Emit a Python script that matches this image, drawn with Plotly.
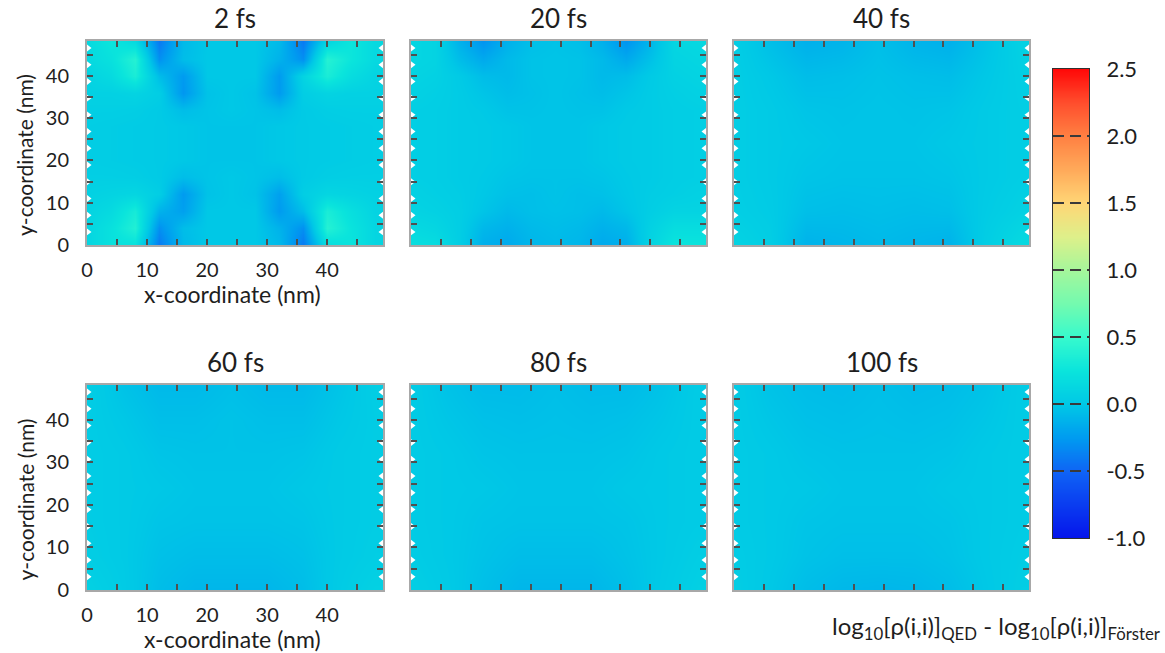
import numpy as np
import plotly.graph_objects as go

W, H = 1165, 653

# ---------------- data ----------------
PANEL_TITLES = ["2 fs", "20 fs", "40 fs", "60 fs", "80 fs", "100 fs"]

# fine grid (nm) for the 2 fs and 20 fs maps
X_FINE = [0, 4, 8, 12, 16, 20, 24, 28, 32, 36, 40, 44, 48]
Y_FINE = [0, 4, 8, 12, 16, 20, 24, 28, 32, 36, 40, 44, 48]
# coarse grid (nm) for the smoother later maps
X_COARSE = [0, 6, 12, 18, 24, 30, 36, 42, 48]
Y_COARSE = [0, 8, 16, 24, 32, 40, 48]

# rows listed from y = 0 (bottom) to y = 48 (top)
Z_2FS = [
    [0.12, 0.22, 0.22, -0.40, -0.08, 0.00, 0.00, 0.00, -0.08, -0.40, 0.18, 0.24, 0.12],
    [0.12, 0.22, 0.38, -0.30, -0.06, 0.00, 0.00, 0.00, -0.12, -0.30, 0.40, 0.24, 0.12],
    [0.10, 0.16, 0.32, -0.12, -0.22, 0.00, 0.00, 0.00, -0.25, -0.06, 0.34, 0.20, 0.10],
    [0.08, 0.10, 0.12, 0.05, -0.25, -0.03, 0.00, -0.03, -0.22, 0.05, 0.12, 0.10, 0.08],
    [0.06, 0.06, 0.05, 0.02, -0.06, -0.02, 0.00, -0.02, -0.06, 0.02, 0.05, 0.06, 0.06],
    [0.05, 0.04, 0.03, 0.02, 0.00, -0.02, -0.02, -0.02, 0.00, 0.02, 0.03, 0.04, 0.05],
    [0.05, 0.04, 0.03, 0.02, 0.00, -0.02, -0.02, -0.02, 0.00, 0.02, 0.03, 0.04, 0.05],
    [0.05, 0.04, 0.03, 0.02, 0.00, -0.02, -0.02, -0.02, 0.00, 0.02, 0.03, 0.04, 0.05],
    [0.06, 0.06, 0.05, 0.02, -0.06, -0.02, 0.00, -0.02, -0.06, 0.02, 0.05, 0.06, 0.06],
    [0.08, 0.08, 0.10, 0.05, -0.27, -0.03, 0.00, -0.03, -0.25, 0.05, 0.10, 0.08, 0.08],
    [0.10, 0.16, 0.34, -0.06, -0.25, 0.00, 0.00, 0.00, -0.25, 0.10, 0.34, 0.18, 0.10],
    [0.15, 0.22, 0.40, -0.30, -0.06, 0.00, 0.00, 0.00, -0.12, -0.30, 0.40, 0.26, 0.15],
    [0.15, 0.26, 0.16, -0.40, -0.08, 0.00, 0.00, 0.00, -0.08, -0.40, 0.12, 0.26, 0.15],
]

Z_20FS = [
    [0.20, 0.18, 0.05, -0.14, -0.17, -0.10, -0.08, -0.10, -0.17, -0.14, 0.10, 0.25, 0.25],
    [0.15, 0.12, 0.05, -0.09, -0.13, -0.08, -0.06, -0.08, -0.13, -0.09, 0.08, 0.18, 0.18],
    [0.10, 0.08, 0.05, -0.02, -0.08, -0.05, -0.04, -0.05, -0.08, -0.02, 0.05, 0.10, 0.10],
    [0.08, 0.06, 0.04, 0.00, -0.04, -0.05, -0.03, -0.05, -0.04, 0.00, 0.04, 0.06, 0.08],
    [0.06, 0.05, 0.03, 0.01, -0.02, -0.03, -0.03, -0.03, -0.02, 0.01, 0.03, 0.05, 0.06],
    [0.06, 0.05, 0.03, 0.02, 0.00, -0.02, -0.02, -0.02, 0.00, 0.02, 0.03, 0.05, 0.06],
    [0.06, 0.05, 0.03, 0.02, 0.00, -0.02, -0.02, -0.02, 0.00, 0.02, 0.03, 0.05, 0.06],
    [0.06, 0.05, 0.03, 0.02, 0.00, -0.02, -0.02, -0.02, 0.00, 0.02, 0.03, 0.05, 0.06],
    [0.06, 0.05, 0.03, 0.01, -0.03, -0.03, -0.02, -0.03, -0.03, 0.01, 0.03, 0.05, 0.06],
    [0.08, 0.06, 0.03, -0.02, -0.06, -0.04, -0.02, -0.04, -0.06, -0.02, 0.03, 0.06, 0.08],
    [0.10, 0.08, 0.02, -0.06, -0.08, -0.03, -0.02, -0.03, -0.08, -0.06, 0.02, 0.08, 0.10],
    [0.12, 0.10, -0.06, -0.17, -0.08, -0.03, -0.02, -0.03, -0.08, -0.17, -0.04, 0.10, 0.12],
    [0.12, 0.10, -0.12, -0.28, -0.13, -0.05, -0.03, -0.05, -0.13, -0.28, -0.10, 0.12, 0.14],
]

Z_40FS = [
    [0.10, 0.05, -0.12, -0.10, -0.08, -0.10, -0.12, 0.05, 0.15],
    [0.06, 0.03, -0.05, -0.06, -0.05, -0.06, -0.05, 0.03, 0.08],
    [0.05, 0.02, -0.02, -0.03, -0.03, -0.03, -0.02, 0.02, 0.05],
    [0.05, 0.02, 0.00, -0.02, -0.02, -0.02, 0.00, 0.02, 0.05],
    [0.05, 0.02, -0.02, -0.03, -0.02, -0.03, -0.02, 0.02, 0.05],
    [0.05, 0.00, -0.06, -0.05, -0.03, -0.05, -0.06, 0.00, 0.06],
    [0.05, -0.05, -0.13, -0.11, -0.05, -0.11, -0.13, -0.03, 0.08],
]

Z_60FS = [
    [0.08, 0.03, -0.06, -0.10, -0.10, -0.10, -0.06, 0.03, 0.08],
    [0.05, 0.02, -0.04, -0.06, -0.06, -0.06, -0.04, 0.02, 0.05],
    [0.04, 0.02, -0.02, -0.03, -0.03, -0.03, -0.02, 0.02, 0.04],
    [0.04, 0.02, 0.00, -0.02, -0.02, -0.02, 0.00, 0.02, 0.04],
    [0.04, 0.02, -0.02, -0.03, -0.03, -0.03, -0.02, 0.02, 0.04],
    [0.04, 0.00, -0.05, -0.05, -0.03, -0.05, -0.05, 0.00, 0.04],
    [0.05, -0.03, -0.08, -0.08, -0.05, -0.08, -0.08, -0.02, 0.05],
]

Z_80FS = [
    [0.06, 0.02, -0.05, -0.10, -0.10, -0.10, -0.05, 0.02, 0.07],
    [0.04, 0.01, -0.03, -0.06, -0.06, -0.06, -0.03, 0.01, 0.05],
    [0.03, 0.01, -0.02, -0.03, -0.03, -0.03, -0.02, 0.01, 0.03],
    [0.03, 0.01, 0.00, -0.02, -0.02, -0.02, 0.00, 0.01, 0.03],
    [0.03, 0.01, -0.02, -0.03, -0.03, -0.03, -0.02, 0.01, 0.03],
    [0.03, -0.01, -0.04, -0.05, -0.04, -0.05, -0.04, -0.01, 0.03],
    [0.03, -0.03, -0.07, -0.07, -0.05, -0.07, -0.07, -0.03, 0.03],
]

Z_100FS = [
    [0.05, 0.00, -0.06, -0.09, -0.10, -0.09, -0.06, 0.00, 0.05],
    [0.04, 0.01, -0.03, -0.05, -0.05, -0.05, -0.03, 0.01, 0.04],
    [0.03, 0.01, -0.02, -0.03, -0.03, -0.03, -0.02, 0.01, 0.03],
    [0.03, 0.01, 0.00, -0.02, -0.02, -0.02, 0.00, 0.01, 0.03],
    [0.03, 0.01, -0.02, -0.03, -0.03, -0.03, -0.02, 0.01, 0.03],
    [0.03, -0.01, -0.04, -0.05, -0.04, -0.05, -0.04, -0.01, 0.03],
    [0.03, -0.03, -0.06, -0.07, -0.05, -0.07, -0.06, -0.03, 0.03],
]

# lattice edge: rows of the hexagonal lattice where the edge notches sit (nm)
EDGE_NOTCH_Y = [3.1, 7.05, 11.0, 14.95, 18.9, 22.85, 26.8, 30.75, 34.7, 38.65, 42.6, 46.55]

# colour bar
CB_MIN, CB_MAX = -1.0, 2.5
CB_TICKS = [-1.0, -0.5, 0.0, 0.5, 1.0, 1.5, 2.0, 2.5]
CB_TICKTEXT = ["-1.0", "-0.5", "0.0", "0.5", "1.0", "1.5", "2.0", "2.5"]
SCALE_VALUES = [-1.0, -0.5, -0.25, 0.0, 0.25, 0.5, 0.75, 1.0, 1.25, 1.5, 1.75, 2.0, 2.25, 2.5]
SCALE_COLORS = ["rgb(5,20,235)", "rgb(15,100,245)", "rgb(0,155,240)", "rgb(0,200,230)",
                "rgb(10,228,220)", "rgb(55,250,205)", "rgb(115,250,175)", "rgb(165,246,155)",
                "rgb(222,240,138)", "rgb(255,214,118)", "rgb(255,170,90)", "rgb(255,128,66)",
                "rgb(255,78,45)", "rgb(255,8,8)"]

X_TICK_LABELS = [0, 10, 20, 30, 40]
Y_TICK_LABELS = [0, 10, 20, 30, 40]

# ---------------- layout geometry (pixels) ----------------
FONT = "Lato, 'Open Sans', sans-serif"
TXT = "#1e1e1e"
COLS_PX = [(87, 383), (411, 706), (734, 1029)]
ROWS_PX = [(41, 245), (385, 590)]
X_RANGE = [0, 49.3]
Y_RANGE = [0, 48.2]


def px_x(p):
    return p / W


def px_y(p):
    return 1 - p / H


panels = [
    (Z_2FS, X_FINE, Y_FINE),
    (Z_20FS, X_FINE, Y_FINE),
    (Z_40FS, X_COARSE, Y_COARSE),
    (Z_60FS, X_COARSE, Y_COARSE),
    (Z_80FS, X_COARSE, Y_COARSE),
    (Z_100FS, X_COARSE, Y_COARSE),
]

colorscale = [[(v - CB_MIN) / (CB_MAX - CB_MIN), c] for v, c in zip(SCALE_VALUES, SCALE_COLORS)]

fig = go.Figure()
layout = {}
annotations = []
shapes = []

for i, (z, xs, ys) in enumerate(panels):
    r, c = divmod(i, 3)
    n = i + 1
    xa = "x" if n == 1 else f"x{n}"
    ya = "y" if n == 1 else f"y{n}"
    fig.add_trace(go.Heatmap(
        z=z, x=xs, y=ys, coloraxis="coloraxis", zsmooth="best",
        xaxis=xa, yaxis=ya, hoverinfo="skip"))
    # white notches of the hexagonal lattice boundary
    fig.add_trace(go.Scatter(
        x=[X_RANGE[0]] * len(EDGE_NOTCH_Y), y=EDGE_NOTCH_Y, mode="markers",
        marker=dict(symbol="triangle-right", size=9, color="white", line=dict(width=0)),
        xaxis=xa, yaxis=ya, hoverinfo="skip", cliponaxis=True))
    fig.add_trace(go.Scatter(
        x=[X_RANGE[1]] * len(EDGE_NOTCH_Y), y=EDGE_NOTCH_Y, mode="markers",
        marker=dict(symbol="triangle-left", size=9, color="white", line=dict(width=0)),
        xaxis=xa, yaxis=ya, hoverinfo="skip", cliponaxis=True))
    x0, x1 = COLS_PX[c]
    y0, y1 = ROWS_PX[r]
    show_lab = (c == 0)
    common = dict(
        showgrid=False, zeroline=False, showline=True, linecolor="#a8a8a8", linewidth=2,
        mirror="ticks", ticks="inside", ticklen=6, tickwidth=1.5, tickcolor="#505050",
        tickfont=dict(family=FONT, size=20, color=TXT), fixedrange=True, automargin=False,
        minor=dict(ticks="inside", ticklen=6, tickwidth=1.5, tickcolor="#505050", dtick=5),
    )
    layout["xaxis" if n == 1 else f"xaxis{n}"] = dict(
        domain=[px_x(x0), px_x(x1)], anchor=ya, range=X_RANGE,
        tickmode="array", tickvals=X_TICK_LABELS, ticktext=[str(v) for v in X_TICK_LABELS],
        showticklabels=show_lab, ticklabelstandoff=6, **common)
    layout["yaxis" if n == 1 else f"yaxis{n}"] = dict(
        domain=[px_y(y1), px_y(y0)], anchor=xa, range=Y_RANGE,
        tickmode="array", tickvals=Y_TICK_LABELS, ticktext=[str(v) for v in Y_TICK_LABELS],
        showticklabels=show_lab, ticklabelstandoff=12, **common)
    annotations.append(dict(
        text=PANEL_TITLES[i], x=px_x((x0 + x1) / 2), y=px_y(y0 - 23), xref="paper", yref="paper",
        showarrow=False, xanchor="center", yanchor="middle",
        font=dict(family=FONT, size=26, color=TXT)))
    if show_lab:
        annotations.append(dict(
            text="x-coordinate (nm)", x=px_x((x0 + x1) / 2 - 3), y=px_y(y1 + 49), xref="paper",
            yref="paper", showarrow=False, xanchor="center", yanchor="middle",
            font=dict(family=FONT, size=23, color=TXT)))
        annotations.append(dict(
            text="y-coordinate (nm)", x=px_x(25), y=px_y((y0 + y1) / 2 + 12), xref="paper",
            yref="paper", showarrow=False, xanchor="center", yanchor="middle", textangle=-90,
            font=dict(family=FONT, size=21, color=TXT)))

# ---------------- colour bar drawn as its own narrow axis ----------------
CB_LEFT, CB_RIGHT, CB_TOP, CB_BOTTOM = 1053, 1089, 69, 538
cb_ramp = np.linspace(CB_MIN, CB_MAX, 141)
fig.add_trace(go.Heatmap(
    z=[[v] for v in cb_ramp], y=cb_ramp, x=[0], coloraxis="coloraxis", zsmooth="best",
    xaxis="x7", yaxis="y7", hoverinfo="skip"))
layout["xaxis7"] = dict(
    domain=[px_x(CB_LEFT), px_x(CB_RIGHT)], anchor="y7", range=[-0.5, 0.5],
    showgrid=False, zeroline=False, showticklabels=False, ticks="", automargin=False,
    showline=True, linecolor="#303030", linewidth=1, mirror=True, fixedrange=True)
layout["yaxis7"] = dict(
    domain=[px_y(CB_BOTTOM), px_y(CB_TOP)], anchor="x7", range=[CB_MIN, CB_MAX], side="right",
    showgrid=False, zeroline=False, tickmode="array", tickvals=CB_TICKS, ticktext=CB_TICKTEXT,
    ticks="", ticklabelstandoff=12, tickfont=dict(family=FONT, size=22, color=TXT),
    automargin=False,
    showline=True, linecolor="#303030", linewidth=1, mirror=True, fixedrange=True)

for v in CB_TICKS[1:-1]:
    shapes.append(dict(type="line", xref="x7 domain", yref="y7", x0=0, x1=1, y0=v, y1=v,
                       line=dict(color="#3a3a3a", width=2, dash="11px,6px")))

layout["coloraxis"] = dict(cmin=CB_MIN, cmax=CB_MAX, colorscale=colorscale, showscale=False)

annotations.append(dict(
    text="log<sub>10</sub>[ρ(i,i)]<sub>QED</sub> - log<sub>10</sub>[ρ(i,i)]<sub>Förster</sub>",
    x=px_x(1162), y=px_y(627), xref="paper", yref="paper", showarrow=False,
    xanchor="right", yanchor="middle", font=dict(family=FONT, size=24, color=TXT)))

fig.update_layout(
    width=W, height=H, margin=dict(l=0, r=0, t=0, b=0, autoexpand=False),
    paper_bgcolor="white", plot_bgcolor="white", showlegend=False,
    annotations=annotations, shapes=shapes, **layout)

fig.write_html("out.html", config={"displayModeBar": False})
